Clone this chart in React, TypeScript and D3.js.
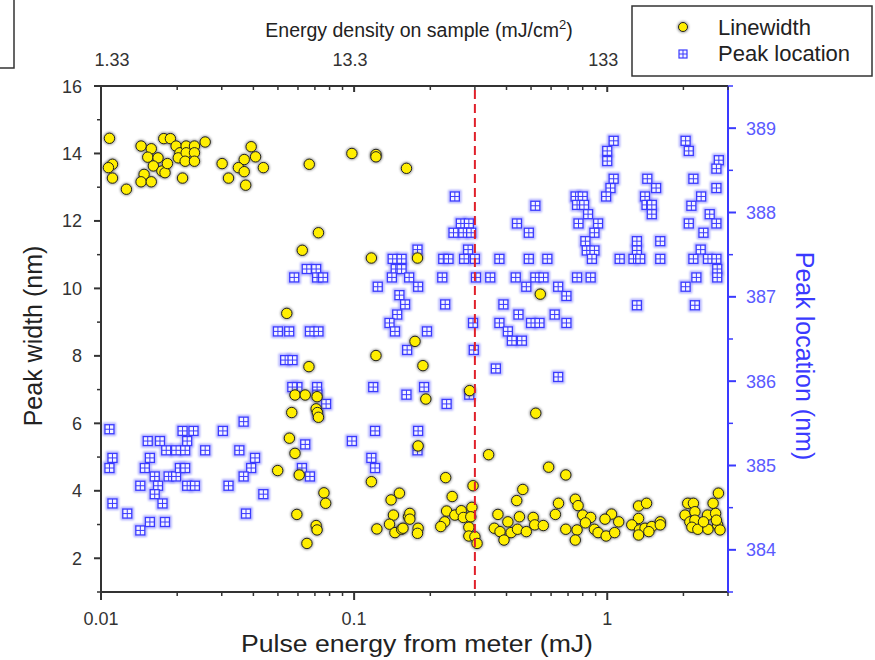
import React from "react";
import * as d3 from "d3";

const linewidthData: [number, number][] = [
  [0.0108,14.45],[0.0111,13.68],[0.0107,13.58],[0.0111,13.27],[0.0126,12.94],
  [0.0144,14.22],[0.0158,14.14],[0.0153,13.89],[0.0168,13.87],[0.0161,13.63],[0.0174,13.48],[0.0179,13.43],[0.0183,13.70],[0.0148,13.38],[0.0144,13.16],[0.0158,13.16],
  [0.0177,14.44],[0.0188,14.44],[0.0198,14.22],[0.0205,14.02],[0.0202,13.87],[0.0217,14.22],[0.0234,14.22],[0.0217,14.02],[0.0234,14.02],[0.0215,13.77],[0.0234,13.77],[0.0210,13.27],[0.0258,14.34],
  [0.0301,13.70],[0.0319,13.27],[0.0392,14.20],[0.0408,13.90],[0.0368,13.82],[0.0349,13.58],[0.0368,13.46],[0.0438,13.58],[0.0373,13.06],
  [0.0665,13.68],[0.0723,11.65],[0.0624,11.13],[0.0542,9.26],
  [0.098,14.0],[0.122,13.97],[0.122,13.9],[0.161,13.56],[0.117,10.9],[0.178,10.9],[0.174,8.43],
  [0.122,8.01],[0.0663,7.68],[0.0584,6.84],[0.0641,6.84],[0.0714,6.79],[0.0708,6.43],[0.0716,6.32],[0.0723,6.18],[0.0567,6.32],[0.0555,5.56],[0.0584,5.11],[0.0499,4.60],[0.0607,4.47],[0.076,3.94],[0.0772,3.63],[0.0594,3.30],[0.0708,2.97],[0.0714,2.84],[0.0651,2.44],
  [0.117,4.27],[0.123,2.87],[0.140,3.73],[0.151,3.93],[0.143,3.28],[0.138,3.01],[0.145,2.76],[0.154,2.86],[0.164,3.23],
  [0.187,7.71],[0.192,6.72],[0.179,5.33],[0.286,6.97],[0.34,5.07],[0.522,6.30],[0.587,4.70],[0.686,4.47],[0.544,9.83],
  [0.23,4.39],[0.244,3.83],[0.295,4.15],[0.166,3.33],[0.166,3.16],[0.156,2.89],[0.179,2.89],[0.178,2.74],
  [0.232,3.40],[0.25,3.28],[0.228,3.08],[0.22,2.94],[0.265,3.41],[0.27,3.21],[0.292,3.51],[0.289,3.23],[0.284,2.92],[0.284,2.66],[0.30,2.64],[0.306,2.44],
  [0.37,3.30],[0.358,2.89],[0.377,2.79],[0.391,2.54],[0.405,3.08],[0.417,2.76],[0.439,3.71],[0.464,4.04],[0.45,3.23],[0.442,2.86],[0.479,2.79],[0.51,3.21],[0.517,2.99],[0.559,2.97],
  [0.642,3.63],[0.624,3.30],[0.686,2.86],[0.748,3.75],[0.767,3.56],[0.80,3.28],[0.86,3.21],[0.82,3.05],[0.76,2.84],[0.748,2.54],[0.89,2.86],[0.92,2.76],[0.99,2.66],[1.04,3.31],[1.07,2.76],[1.11,3.08],[0.98,3.16],
  [1.33,3.55],[1.43,3.63],[1.33,3.18],[1.25,2.99],[1.34,2.84],[1.41,2.89],[1.50,2.94],[1.62,3.08],[1.62,2.99],[1.33,2.69],[1.46,2.79],
  [2.08,3.63],[2.19,3.63],[2.03,3.28],[2.22,3.38],[2.12,3.08],[2.22,3.13],[2.49,3.28],[2.62,3.63],[2.68,3.33],[2.75,3.93],[2.16,2.92],[2.28,2.86],[2.5,2.86],[2.73,2.99],[2.79,2.84],[2.40,3.08],[2.70,3.13],
];

const peakData: [number, number][] = [
  [0.065,387.33],[0.0708,387.33],[0.058,387.23],[0.0714,387.23],[0.050,386.59],[0.0554,386.59],[0.0669,386.59],[0.0723,386.59],
  [0.25,388.19],[0.264,387.87],[0.284,387.87],[0.247,387.76],[0.27,387.76],[0.29,387.76],[0.52,388.08],[0.44,387.87],[0.49,387.76],[0.178,387.56],[0.282,387.56],[0.0754,387.23],
  [0.142,387.45],[0.154,387.45],[0.146,387.33],[0.154,387.33],[0.225,387.45],[0.236,387.45],[0.272,387.45],[0.30,387.45],[0.375,387.45],[0.49,387.45],[0.58,387.45],
  [0.141,387.23],[0.165,387.23],[0.223,387.23],[0.303,387.23],[0.345,387.23],[0.435,387.23],[0.52,387.23],[0.56,387.23],[0.76,387.23],[0.86,387.23],
  [0.479,387.12],[0.124,387.12],[0.179,387.12],[0.64,387.12],[0.151,387.02],[0.69,387.01],[0.159,386.91],[0.229,386.91],[0.389,386.91],[0.446,386.79],[0.62,386.79],[0.148,386.79],
  [0.138,386.69],[0.295,386.69],[0.375,386.69],[0.50,386.69],[0.54,386.69],[0.69,386.69],[0.145,386.59],[0.194,386.59],[0.405,386.59],[0.42,386.48],[0.46,386.48],
  [1.06,388.85],[1.00,388.73],[1.00,388.61],[2.04,388.85],[2.10,388.73],[2.76,388.62],[2.70,388.52],[1.06,388.40],[1.03,388.29],[0.99,388.19],[1.44,388.40],[1.56,388.29],[2.19,388.40],[2.70,388.29],[2.35,388.19],[2.15,388.08],
  [0.75,388.19],[0.80,388.19],[0.76,388.09],[0.81,388.09],[0.84,387.98],[1.41,388.19],[1.43,388.09],[1.50,388.09],[1.50,387.98],[2.54,387.98],[2.70,387.87],[2.10,387.87],[2.40,387.76],[0.77,387.87],[0.92,387.87],[0.89,387.76],
  [0.82,387.66],[0.83,387.55],[0.89,387.55],[0.87,387.45],[1.31,387.66],[1.31,387.55],[1.27,387.45],[1.35,387.45],[1.12,387.45],[1.62,387.66],[1.62,387.45],[2.34,387.56],[2.19,387.45],[2.50,387.45],[2.70,387.45],[2.72,387.33],[2.72,387.23],[2.25,387.23],[2.04,387.12],[2.22,386.90],[1.31,386.90],
  [0.0534,386.25],[0.0571,386.25],[0.0597,385.93],[0.057,385.93],[0.0714,385.93],[0.0716,385.84],[0.0775,385.73],[0.072,385.60],[0.119,385.93],[0.161,385.84],[0.162,386.37],[0.121,385.41],[0.098,385.29],[0.0641,385.25],[0.117,385.09],[0.121,384.97],[0.0622,384.97],[0.0669,384.87],
  [0.0108,385.43],[0.0111,385.09],[0.0108,384.97],[0.0111,384.55],[0.0127,384.43],[0.0143,384.23],[0.0156,384.33],[0.0179,384.33],[0.0143,384.76],[0.0153,385.29],[0.0171,385.29],[0.0156,385.09],[0.0149,384.97],[0.0163,384.87],[0.0168,384.76],[0.0163,384.66],[0.0175,384.55],
  [0.0181,385.18],[0.0198,385.18],[0.0215,385.18],[0.0210,385.41],[0.0232,385.41],[0.0219,385.29],[0.0185,384.87],[0.0198,384.87],[0.0205,384.97],[0.0215,384.97],[0.0219,384.76],[0.0235,384.76],[0.0258,385.18],[0.0303,385.41],[0.0366,385.52],[0.0352,385.18],[0.0406,385.09],[0.0392,384.97],[0.0366,384.87],[0.0319,384.76],[0.0438,384.66],[0.0374,384.43],
  [0.297,386.37],[0.363,386.15],[0.64,386.05],[0.189,385.93],[0.232,385.73],[0.285,385.84],[0.179,385.41],[0.178,385.18],
];

const bottomTickLabels = ["0.01", "0.1", "1"];
const bottomMajor = [0.01, 0.1, 1];
const topTickLabels = ["1.33", "13.3", "133"];
const topMajor = [1.33, 13.3, 133];
const leftTicks = [2, 4, 6, 8, 10, 12, 14, 16];
const rightTicks = [384, 385, 386, 387, 388, 389];
const thresholdEnergy = 0.3;

const FONT = "'Liberation Sans', Arial, sans-serif";
const AXIS = "#333";
const BLUE = "#3a3aff";
const BLUE_TXT = "#5a5aff";

const L = 101, R = 728, T = 86, B = 592;

export default function App() {
  const x = d3.scaleLog().domain([0.01, 3]).range([L, R]);
  const xTop = d3.scaleLog().domain([1.33, 399]).range([L, R]);
  const yL = d3.scaleLinear().domain([1, 16]).range([B, T]);
  const yR = d3.scaleLinear().domain([383.5, 389.5]).range([B, T]);

  const minorBottom: number[] = [];
  [0.01, 0.1, 1].forEach((dec) => {
    for (let k = 2; k <= 9; k++) {
      const v = k * dec;
      if (v <= 3.0001) minorBottom.push(v);
    }
  });
  const minorTop: number[] = [];
  [1.33, 13.3, 133].forEach((dec) => {
    for (let k = 2; k <= 9; k++) {
      const v = k * dec;
      if (v <= 399.01) minorTop.push(v);
    }
  });
  const leftMinor = d3.range(1, 16, 2);
  const rightMinor = d3.range(383.5, 389.6, 1);

  const sq = 9;

  return (
    <svg width={875} height={660} style={{ position: "absolute", left: 0, top: 0, background: "#fff" }}>
      <defs>
        <filter id="halo" x="-50%" y="-50%" width="200%" height="200%">
          <feGaussianBlur stdDeviation="1.2" />
        </filter>
      </defs>
      {/* partial box top-left */}
      <path d="M -2 68 L 14 68 L 14 -2" fill="none" stroke={AXIS} strokeWidth={1.5} />

      {/* blue squares */}
      <g>
        {peakData.map(([px, py], i) => (
          <rect key={"hb" + i} x={x(px) - sq / 2 - 1} y={yR(py) - sq / 2 - 1} width={sq + 2} height={sq + 2}
            fill="none" stroke="#a0a0ff" strokeWidth={2} filter="url(#halo)" />
        ))}
        {peakData.map(([px, py], i) => {
          const cx = x(px), cy = yR(py);
          return (
            <g key={"b" + i}>
              <rect x={cx - sq / 2} y={cy - sq / 2} width={sq} height={sq} fill="#f4f4ff" stroke={BLUE} strokeWidth={1.3} />
              <line x1={cx} x2={cx} y1={cy - sq / 2} y2={cy + sq / 2} stroke={BLUE} strokeWidth={1} />
              <line x1={cx - sq / 2} x2={cx + sq / 2} y1={cy} y2={cy} stroke={BLUE} strokeWidth={1} />
            </g>
          );
        })}
      </g>

      {/* yellow circles */}
      <g>
        {linewidthData.map(([px, py], i) => (
          <circle key={"hy" + i} cx={x(px)} cy={yL(py)} r={6.5} fill="#555" opacity={0.55} filter="url(#halo)" />
        ))}
        {linewidthData.map(([px, py], i) => (
          <circle key={"y" + i} cx={x(px)} cy={yL(py)} r={5.2} fill="#ffee00" stroke="#222" strokeWidth={1} />
        ))}
      </g>

      {/* dashed threshold */}
      <line x1={x(thresholdEnergy)} x2={x(thresholdEnergy)} y1={T + 4} y2={B} stroke="#e0202a" strokeWidth={2} strokeDasharray="9,5" />

      {/* axes lines */}
      <line x1={L} x2={R} y1={B} y2={B} stroke={AXIS} strokeWidth={2} />
      <line x1={L} x2={R} y1={T} y2={T} stroke={AXIS} strokeWidth={2} />
      <line x1={L} x2={L} y1={T} y2={B + 1} stroke={AXIS} strokeWidth={2} />
      <line x1={R} x2={R} y1={T} y2={B + 1} stroke={BLUE} strokeWidth={2} />

      {/* bottom ticks */}
      {bottomMajor.map((v, i) => (
        <g key={"bt" + i}>
          <line x1={x(v)} x2={x(v)} y1={B} y2={B + 8} stroke={AXIS} strokeWidth={2} />
          <text x={x(v)} y={625} textAnchor="middle" fontFamily={FONT} fontSize={18} fill="#333">{bottomTickLabels[i]}</text>
        </g>
      ))}
      {minorBottom.map((v, i) => (
        <line key={"bm" + i} x1={x(v)} x2={x(v)} y1={B} y2={B + 4} stroke={AXIS} strokeWidth={1.5} />
      ))}

      {/* top ticks (inward) */}
      {topMajor.map((v, i) => (
        <g key={"tt" + i}>
          <line x1={xTop(v)} x2={xTop(v)} y1={T} y2={T + 6} stroke={AXIS} strokeWidth={2} />
          <text x={xTop(v) + (i === 0 ? 11 : -4)} y={66} textAnchor="middle" fontFamily={FONT} fontSize={18} fill="#333">{topTickLabels[i]}</text>
        </g>
      ))}
      {minorTop.map((v, i) => (
        <line key={"tm" + i} x1={xTop(v)} x2={xTop(v)} y1={T} y2={T + 4} stroke={AXIS} strokeWidth={1.5} />
      ))}

      {/* left ticks */}
      {leftTicks.map((v) => (
        <g key={"lt" + v}>
          <line x1={L - 7} x2={L} y1={yL(v)} y2={yL(v)} stroke={AXIS} strokeWidth={2} />
          <text x={L - 19} y={yL(v) + 6.5} textAnchor="end" fontFamily={FONT} fontSize={18} fill="#333">{v}</text>
        </g>
      ))}
      {leftMinor.map((v) => (
        <line key={"lm" + v} x1={L - 4} x2={L} y1={yL(v)} y2={yL(v)} stroke={AXIS} strokeWidth={1.5} />
      ))}

      {/* right ticks */}
      {rightTicks.map((v) => (
        <g key={"rt" + v}>
          <line x1={R} x2={R + 8} y1={yR(v)} y2={yR(v)} stroke={BLUE} strokeWidth={2} />
          <text x={R + 18} y={yR(v) + 6.5} textAnchor="start" fontFamily={FONT} fontSize={18} fill={BLUE_TXT}>{v}</text>
        </g>
      ))}
      {rightMinor.map((v) => (
        <line key={"rm" + v} x1={R} x2={R + 5} y1={yR(v)} y2={yR(v)} stroke={BLUE} strokeWidth={1.5} />
      ))}

      {/* axis titles */}
      <text x={417} y={652} textAnchor="middle" fontFamily={FONT} fontSize={23} textLength={352} lengthAdjust="spacingAndGlyphs" fill="#222">Pulse energy from meter (mJ)</text>
      <text x={419} y={37} textAnchor="middle" fontFamily={FONT} fontSize={19.5} fill="#222">
        Energy density on sample (mJ/cm<tspan dy={-8} fontSize={13}>2</tspan><tspan dy={8}>)</tspan>
      </text>
      <text transform="translate(42,336) rotate(-90)" textAnchor="middle" fontFamily={FONT} fontSize={25} fill="#222">Peak width (nm)</text>
      <text transform="translate(796,356) rotate(90)" textAnchor="middle" fontFamily={FONT} fontSize={25} fill={BLUE}>Peak location (nm)</text>

      {/* legend */}
      <rect x={632} y={6} width={240} height={70} fill="#fff" stroke="#333" strokeWidth={1.5} />
      <circle cx={683} cy={27} r={6} fill="#555" opacity={0.5} filter="url(#halo)" />
      <circle cx={683} cy={27} r={4.5} fill="#ffee00" stroke="#222" strokeWidth={1} />
      <text x={718} y={35} fontFamily={FONT} fontSize={22} fill="#222">Linewidth</text>
      <g>
        <rect x={683 - 4} y={54 - 4} width={8} height={8} fill="#f4f4ff" stroke={BLUE} strokeWidth={1.2} />
        <line x1={683} x2={683} y1={50} y2={58} stroke={BLUE} strokeWidth={1} />
        <line x1={679} x2={687} y1={54} y2={54} stroke={BLUE} strokeWidth={1} />
      </g>
      <text x={718} y={61} fontFamily={FONT} fontSize={22} fill="#222">Peak location</text>
    </svg>
  );
}
